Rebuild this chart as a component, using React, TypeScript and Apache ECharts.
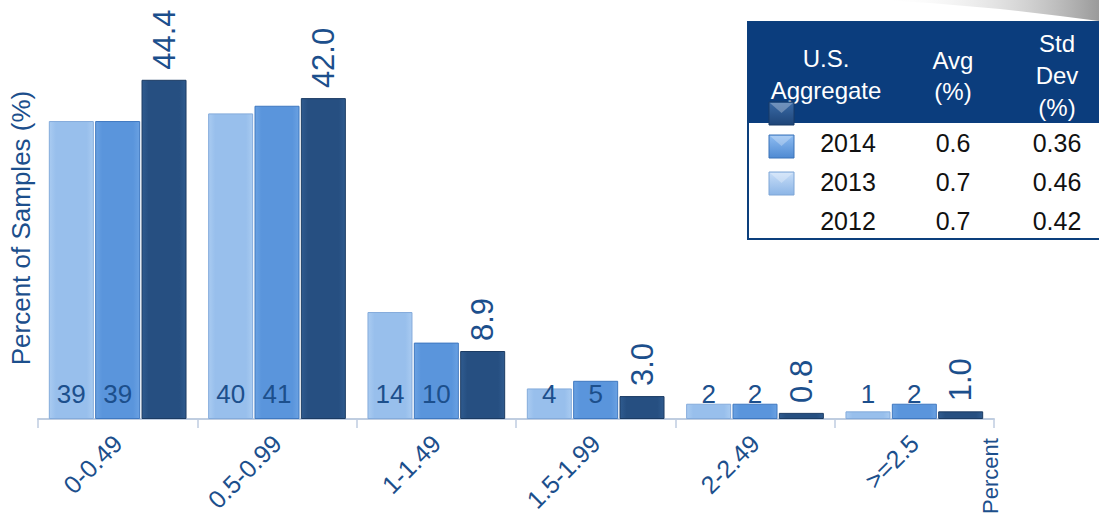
import React, { useEffect, useRef } from "react";
import * as echarts from "echarts";

// Distribution of sample averages by range, three yearly series
const categories = ["0-0.49", "0.5-0.99", "1-1.49", "1.5-1.99", "2-2.49", ">=2.5"];
const values2012 = [39, 40, 14, 4, 2, 1];
const values2013 = [39, 41, 10, 5, 2, 2];
const values2014 = [44.4, 42.0, 8.9, 3.0, 0.8, 1.0];

// Summary table rows: year, average (%), standard deviation (%)
const tableYears = ["2014", "2013", "2012"];
const tableAvg = ["0.6", "0.7", "0.7"];
const tableStd = ["0.36", "0.46", "0.42"];

const FONT = "'Liberation Sans', Arial, sans-serif";
const TEXT_BLUE = "#1c4f8c";

const barFill = (edge: string, mid: string) =>
  new echarts.graphic.LinearGradient(0, 0, 1, 0, [
    { offset: 0, color: edge },
    { offset: 0.15, color: mid },
    { offset: 0.85, color: mid },
    { offset: 1, color: edge },
  ]);

const squareFill = (top: string, bottom: string) =>
  new echarts.graphic.LinearGradient(0, 0, 0, 1, [
    { offset: 0, color: top },
    { offset: 1, color: bottom },
  ]);

export default function App() {
  const ref = useRef<HTMLDivElement>(null);

  useEffect(() => {
    if (!ref.current) return;
    const chart = echarts.init(ref.current, undefined, { renderer: "svg" });

    const bottomLabel = {
      show: true,
      position: "insideBottom" as const,
      distance: 12,
      fontSize: 26,
      fontFamily: FONT,
      color: TEXT_BLUE,
    };

    // Legend swatches drawn beside the table rows
    const swatches = [
      { y: 102, top: "#3a6aa6", bottom: "#1e4578", stroke: "#193a66" },
      { y: 135, top: "#8fbdf2", bottom: "#4f8ad2", stroke: "#3b72b8" },
      { y: 172, top: "#c8def8", bottom: "#8cb5e6", stroke: "#7ea6d6" },
    ];

    const tableX = 748;
    const tableY = 22;
    const headerH = 101;
    const rowYs = [143, 182, 221];
    const colYear = 848;
    const colAvg = 953;
    const colStd = 1057;

    const headerText = (text: string, x: number, y: number) => ({
      type: "text",
      x,
      y,
      style: {
        text,
        fill: "#ffffff",
        fontSize: 24,
        fontFamily: FONT,
        align: "center",
        verticalAlign: "middle",
      },
    });
    const cellText = (text: string, x: number, y: number) => ({
      type: "text",
      x,
      y,
      style: {
        text,
        fill: "#111111",
        fontSize: 25,
        fontFamily: FONT,
        align: "center",
        verticalAlign: "middle",
      },
    });

    const tableElements: any[] = [
      {
        type: "rect",
        shape: { x: tableX, y: tableY, width: 400, height: 217 },
        style: { fill: "#ffffff", stroke: "#0c3f7c", lineWidth: 2 },
      },
      {
        type: "rect",
        shape: { x: tableX, y: tableY, width: 400, height: headerH },
        style: { fill: "#0b3d7d" },
      },
      headerText("U.S.", 826, 58),
      headerText("Aggregate", 826, 90),
      headerText("Avg", colAvg, 60),
      headerText("(%)", colAvg, 91),
      headerText("Std", colStd, 43),
      headerText("Dev", colStd, 75),
      headerText("(%)", colStd, 107),
    ];
    tableYears.forEach((yr, i) => {
      tableElements.push(cellText(yr, colYear, rowYs[i]));
      tableElements.push(cellText(tableAvg[i], colAvg, rowYs[i]));
      tableElements.push(cellText(tableStd[i], colStd, rowYs[i]));
    });
    swatches.forEach((s) => {
      tableElements.push({
        type: "rect",
        shape: { x: 769, y: s.y, width: 25, height: 23 },
        style: { fill: squareFill(s.top, s.bottom), stroke: s.stroke, lineWidth: 1 },
      });
      tableElements.push({
        type: "polygon",
        shape: {
          points: [
            [770, s.y + 1],
            [793, s.y + 1],
            [781.5, s.y + 11],
          ],
        },
        style: { fill: "rgba(255,255,255,0.28)" },
      });
    });

    chart.setOption({
      animation: false,
      backgroundColor: "#ffffff",
      grid: {
        left: 38,
        right: 105,
        top: 37,
        bottom: 100,
        containLabel: false,
        outerBoundsMode: "none",
      },
      xAxis: {
        type: "category",
        data: categories,
        boundaryGap: true,
        axisLine: { show: true, lineStyle: { color: "#bfcde0", width: 2 } },
        axisTick: { show: true, length: 9, lineStyle: { color: "#bfcde0", width: 1.5 } },
        axisLabel: {
          rotate: 45,
          margin: 20,
          fontSize: 25,
          fontFamily: FONT,
          color: TEXT_BLUE,
          interval: 0,
        },
      },
      yAxis: {
        type: "value",
        min: 0,
        max: 50,
        name: "Percent of Samples (%)",
        nameLocation: "middle",
        nameGap: 4,
        nameTextStyle: { fontSize: 26, fontFamily: FONT, color: TEXT_BLUE },
        axisLine: { show: false },
        axisTick: { show: false },
        axisLabel: { show: false },
        splitLine: { show: false },
      },
      series: [
        {
          name: "2012",
          type: "bar",
          data: values2012,
          barWidth: 45,
          barGap: "3%",
          itemStyle: { color: barFill("#a9cbf1", "#98bfec"), borderColor: "#84abdb", borderWidth: 1 },
          label: bottomLabel,
        },
        {
          name: "2013",
          type: "bar",
          data: values2013,
          barWidth: 45,
          barGap: "3%",
          itemStyle: { color: barFill("#6aa1e2", "#5a95dc"), borderColor: "#3f78c0", borderWidth: 1 },
          label: bottomLabel,
        },
        {
          name: "2014",
          type: "bar",
          data: values2014,
          barWidth: 45,
          barGap: "3%",
          itemStyle: { color: barFill("#2f5b8f", "#264f81"), borderColor: "#1b3b63", borderWidth: 1 },
          label: {
            show: true,
            position: "top",
            distance: 10,
            rotate: 90,
            align: "left",
            verticalAlign: "middle",
            fontSize: 31,
            fontFamily: FONT,
            color: TEXT_BLUE,
            formatter: (p: any) => Number(p.value).toFixed(1),
          },
        },
      ],
      graphic: [
        {
          type: "polygon",
          shape: {
            points: [
              [880, 0],
              [1099, 0],
              [1099, 21],
              [1060, 16],
              [1000, 9],
              [930, 3],
            ],
          },
          style: {
            fill: new echarts.graphic.LinearGradient(0, 0, 1, 0, [
              { offset: 0, color: "rgba(255,255,255,0)" },
              { offset: 1, color: "#9a9a9a" },
            ]),
          },
        },
        ...tableElements,
        {
          type: "text",
          x: 990,
          y: 476,
          rotation: Math.PI / 2,
          style: {
            text: "Percent",
            fill: TEXT_BLUE,
            fontSize: 22,
            fontFamily: FONT,
            align: "center",
            verticalAlign: "middle",
          },
        },
      ],
    });

    return () => chart.dispose();
  }, []);

  return (
    <div
      ref={ref}
      style={{ position: "absolute", left: 0, top: 0, width: 1099, height: 519 }}
    />
  );
}
